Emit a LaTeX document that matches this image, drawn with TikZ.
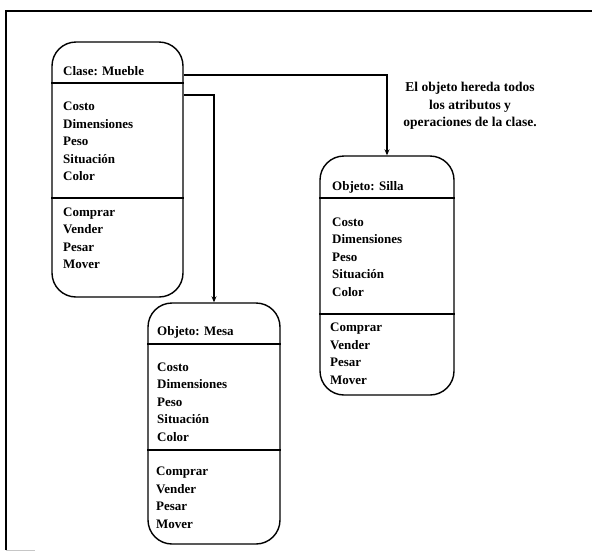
\documentclass[tikz,border=0pt]{standalone}
\usepackage{fontspec}
\setmainfont{Liberation Serif}
\usetikzlibrary{arrows.meta,calc}
\begin{document}
\begin{tikzpicture}[x=1pt,y=-1pt,
  card/.style={draw, line width=1.4pt, rounded corners=24pt, inner sep=0pt},
  cardtitle/.style={anchor=west, inner sep=0pt, font=\bfseries\fontsize{13}{17.5}\selectfont},
  cardlist/.style={anchor=west, inner sep=0pt, align=left, font=\bfseries\fontsize{13}{17.5}\selectfont},
  divider/.style={line width=1.2pt},
  link/.style={line width=1.1pt, -{Stealth[length=6pt,width=5pt]}},
  framing/.style={line width=1.6pt}]
\useasboundingbox (0,0) rectangle (592,552);

% outer frame (left and top edges)
\coordinate (fa) at (6,550);
\coordinate (fb) at (6,11);
\coordinate (fc) at (592,11);
\coordinate (fd) at (35,550);
\draw[framing] (fa) -- (fb) -- (fc);
\draw[gray!45, line width=1pt] (fa) -- (fd);

% class card
\node[card, minimum width=131pt, minimum height=255pt] (mueble) at (117.5,169.5) {};
\draw[divider] (mueble.west |- 0,83) -- (mueble.east |- 0,83);
\draw[divider] (mueble.west |- 0,198) -- (mueble.east |- 0,198);
\node[cardtitle] (muebleT) at (63,71) {Clase: Mueble};
\node[cardlist] (muebleA) at (63,141.5) {Costo\\Dimensiones\\Peso\\Situación\\Color};
\node[cardlist] (muebleO) at (63,238.5) {Comprar\\Vender\\Pesar\\Mover};

% object card: Silla
\node[card, minimum width=134pt, minimum height=239pt] (silla) at (387,275.5) {};
\draw[divider] (silla.west |- 0,198) -- (silla.east |- 0,198);
\draw[divider] (silla.west |- 0,314) -- (silla.east |- 0,314);
\node[cardtitle] (sillaT) at (332,187) {Objeto: Silla};
\node[cardlist] (sillaA) at (332,257) {Costo\\Dimensiones\\Peso\\Situación\\Color};
\node[cardlist] (sillaO) at (330,354) {Comprar\\Vender\\Pesar\\Mover};

% object card: Mesa
\node[card, minimum width=132pt, minimum height=241pt] (mesa) at (214,423.5) {};
\draw[divider] (mesa.west |- 0,344) -- (mesa.east |- 0,344);
\draw[divider] (mesa.west |- 0,450) -- (mesa.east |- 0,450);
\node[cardtitle] (mesaT) at (157,332) {Objeto: Mesa};
\node[cardlist] (mesaA) at (157,402) {Costo\\Dimensiones\\Peso\\Situación\\Color};
\node[cardlist] (mesaO) at (156,498) {Comprar\\Vender\\Pesar\\Mover};

% inheritance links
\draw[link] (mueble.east |- 0,75) -| (silla.north);
\draw[link] (mueble.east |- 0,95) -| (mesa.north);

% note
\node[inner sep=0pt, align=center, font=\bfseries\fontsize{13.5}{17.5}\selectfont] (note) at (470,106)
  {El objeto hereda todos\\los atributos y\\operaciones de la clase.};
\end{tikzpicture}
\end{document}
